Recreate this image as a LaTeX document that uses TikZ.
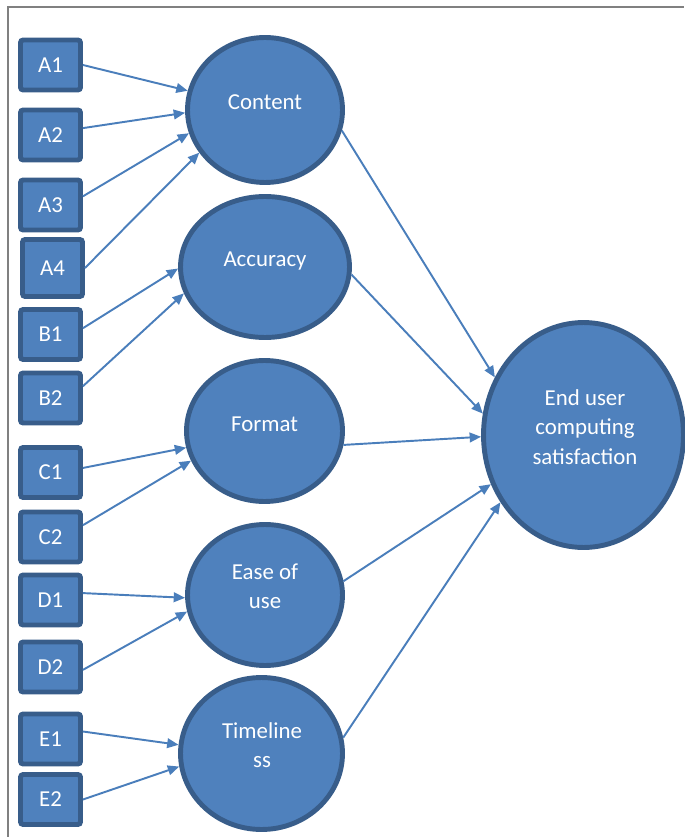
\documentclass[tikz,border=0pt]{standalone}
\usepackage{fontspec}
\setmainfont{Carlito}
\usetikzlibrary{arrows.meta,shapes.geometric}
\definecolor{boxfill}{RGB}{79,129,189}
\definecolor{boxline}{RGB}{56,93,138}
\definecolor{linkcol}{RGB}{74,126,187}
\definecolor{framecol}{RGB}{128,128,128}
\newcommand{\bordw}{2.8pt}
\newcommand{\txtfont}{\fontsize{13}{16.7}\selectfont}
\tikzset{
  item/.style={draw=boxline,line width=\bordw,fill=boxfill,rounded corners=1.5pt,minimum width=1.2cm,minimum height=1cm,inner sep=0pt,text=white,font=\txtfont},
  factor/.style={ellipse,draw=boxline,line width=\bordw,fill=boxfill,inner sep=0pt},
  factortxt/.style={text=white,align=center,inner sep=0pt,font=\txtfont},
  link/.style={draw=linkcol,line width=1.1pt,-{Triangle[length=6.5pt,width=5.5pt]}},
}

\begin{document}
\begin{tikzpicture}[x=0.02cm,y=-0.02cm]
        \useasboundingbox (0,0) rectangle (684,837);
        \draw[framecol,line width=1.2pt] (8,837) -- (8,7) -- (684,7);
        % latent factors
        \node[factor,minimum width=3.1cm,minimum height=2.9cm] (content) at (265,110) {};
        \node[factortxt] (contenttxt) at (265,102) {Content};
        \node[factor,minimum width=3.38cm,minimum height=2.82cm] (accuracy) at (265,267) {};
        \node[factortxt] (accuracytxt) at (265,261) {Accuracy};
        \node[factor,minimum width=3.12cm,minimum height=2.82cm] (format) at (264.5,431) {};
        \node[factortxt] (formattxt) at (264.5,424) {Format};
        \node[factor,minimum width=3.1cm,minimum height=2.82cm] (ease) at (265,595) {};
        \node[factortxt] (easetxt) at (265,586) {Ease of\\ use};
        \node[factor,minimum width=3.24cm,minimum height=3.04cm] (timeliness) at (261.5,753.5) {};
        \node[factortxt] (timelinesstxt) at (262,745) {Timeline\\ ss};
        \node[factor,minimum width=4cm,minimum height=4.5cm] (euc) at (583.5,435) {};
        \node[factortxt] (euctxt) at (585,427) {End user\\ computing\\ satisfaction};
        % items
        \node[item] (a1) at (50.5,65) {A1};
        \draw[link] (a1.east) -- (content.166);
        \node[item] (a2) at (50.5,135) {A2};
        \draw[link] (a2.12) -- (content.182);
        \node[item] (a3) at (50.5,205) {A3};
        \draw[link] (a3.15) -- (content.197);
        \node[item,minimum height=1.14cm] (a4) at (52.5,268) {A4};
        \draw[link] (a4.east) -- (content.213);
        \node[item] (b1) at (50.5,334.5) {B1};
        \draw[link] (b1.11) -- (accuracy.181);
        \node[item] (b2) at (50.5,398) {B2};
        \draw[link] (b2.20) -- (accuracy.198);
        \node[item] (c1) at (50.5,472.5) {C1};
        \draw[link] (c1.8) -- (format.192);
        \node[item] (c2) at (50.5,537) {C2};
        \draw[link] (c2.20) -- (format.202);
        \node[item] (d1) at (50.5,600) {D1};
        \draw[link] (d1.12) -- (ease.182);
        \node[item] (d2) at (50.5,667) {D2};
        \draw[link] (d2.355) -- (ease.192);
        \node[item] (e1) at (50.5,739) {E1};
        \draw[link] (e1.13) -- (timeliness.174);
        \node[item] (e2) at (50.5,799.5) {E2};
        \draw[link] (e2.east) -- (timeliness.189);
        % factors to satisfaction
        \draw[link] (content.345) -- (euc.147);
        \draw[link] (accuracy.355) -- (euc.168);
        \draw[link] (format.350) -- (euc.181);
        \draw[link] (ease.10) -- (euc.208);
        \draw[link] (timeliness.11) -- (euc.219);
\end{tikzpicture}
\end{document}
